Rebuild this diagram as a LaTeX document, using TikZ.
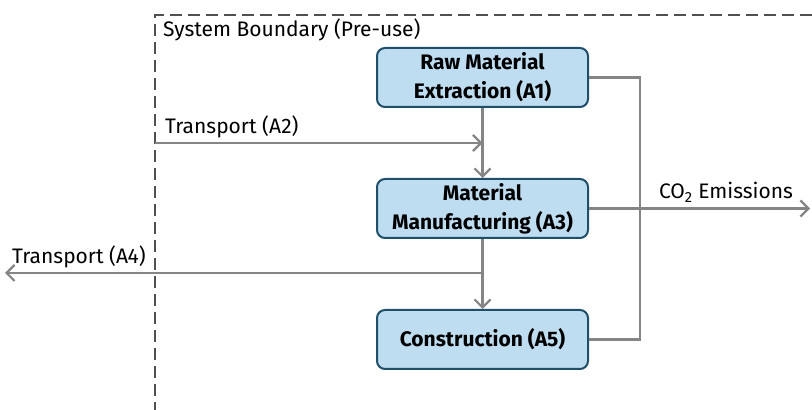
\documentclass[tikz,border=0pt]{standalone}
\usepackage{fontspec}
\setmainfont{Fira Sans}
\usetikzlibrary{positioning}
\usetikzlibrary{arrows.meta}
\definecolor{boxfill}{HTML}{BFDDF1}
\definecolor{boxline}{HTML}{1F4F69}
\definecolor{flowgrey}{HTML}{858585}
\definecolor{limitgrey}{HTML}{505050}
\begin{document}
\begin{tikzpicture}[x=1pt,y=1pt,node distance=131pt,font=\fontsize{21}{28}\selectfont,
		line width=2.2pt,>={Straight Barb[length=8pt,width=16pt]}]
		\tikzstyle{every stage}=[draw=boxline,fill=boxfill,rounded corners=8pt,line width=2pt,
			minimum width=211pt,minimum height=59pt,align=center,font=\fontsize{21}{29}\selectfont\bfseries]
		\tikzstyle{flow}=[draw=flowgrey]
		
		\useasboundingbox (0,0) rectangle (812,410);
		
		\draw[limitgrey,line width=2pt,dash pattern=on 12pt off 6pt] (812,395) -- (155,395) -- (155,0);
		\node[anchor=west,inner sep=0pt] (bound) at (162,380) {System Boundary (Pre-use)};
		
		\node[every stage]   (a1) at (482.5,332.5) {Raw Material\\Extraction (A1)};
		\node[every stage]   (a3) [below of=a1]   {Material\\Manufacturing (A3)};
		\node[every stage]   (a5) [below of=a3]   {Construction (A5)};
		
		\coordinate (a2in)  at (155,267);
		\coordinate (a4out) at (5,137);
		\coordinate (co2)   at (810,201.5);
		\coordinate (rail)  at (640,0);
		
		\draw[flow,->] (a1.south) -- (a3.north);
		\draw[flow,->] (a2in) -- node[pos=0,anchor=south west,xshift=8pt,yshift=3pt,inner sep=1pt] {Transport (A2)} (a2in -| a1.south);
		\draw[flow,->] (a3.south) -- (a5.north);
		\draw[flow,->] (a3.south |- a4out) -- node[pos=1,anchor=south west,yshift=3pt,xshift=5pt,inner sep=1pt] {Transport (A4)} (a4out);
		\draw[flow] (a1.east) -| (rail |- a5.east) -- (a5.east);
		\draw[flow,->] (a3.east) -- node[pos=0.62,above=2pt] {CO\textsubscript{2} Emissions} (co2);
		
\end{tikzpicture}
\end{document}
